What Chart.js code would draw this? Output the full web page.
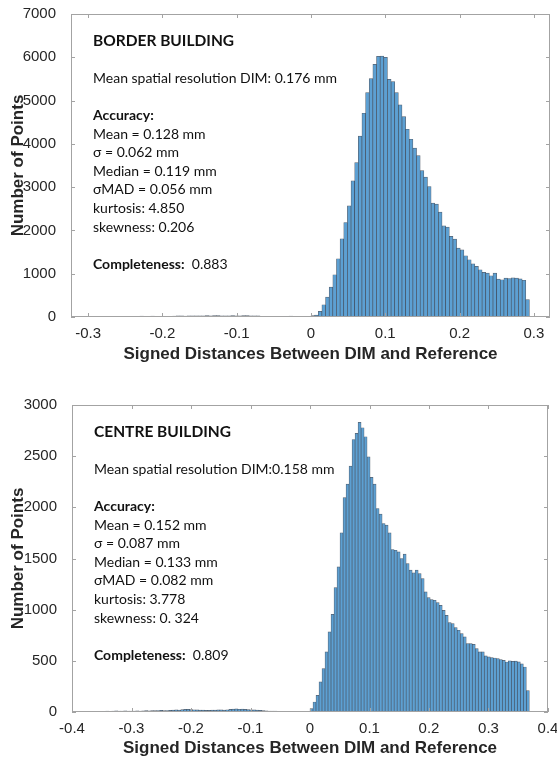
<!DOCTYPE html>
<html>
<head>
<meta charset="utf-8">
<script src="https://cdn.jsdelivr.net/npm/chart.js@4.4.1/dist/chart.umd.min.js"></script>
<style>
  html, body { margin: 0; padding: 0; background: #fff; }
  #wrap { position: relative; width: 557px; height: 761px; }
  canvas { position: absolute; left: 0; }
</style>
</head>
<body>
<div id="wrap">
  <canvas id="topChart" width="557" height="380" style="top:0"></canvas>
  <canvas id="bottomChart" width="557" height="381" style="top:380px"></canvas>
</div>
<script>
// ---- Border building histogram ----
const binWidthTop = 0.0049;
const negTop = [6, 8, 7, 9, 8, 10, 9, 8, 10, 9,
  11, 10, 12, 24, 11, 13, 22, 12, 14, 13,
  15, 14, 22, 26, 25, 24, 27, 28, 26, 25,
  27, 30, 29, 31, 30, 28, 29, 27, 30, 28,
  29, 31, 30, 26, 27, 25, 12, 11, 10, 9,
  10, 8, 9, 7, 22, 8, 0, 0, 0, 0];
const posTop = [30, 46, 130, 284, 461, 692, 976, 1346, 1807, 2184,
  2569, 3146, 3569, 4177, 4708, 5185, 5508, 5838, 6020, 6025,
  6000, 5490, 5440, 5185, 4900, 4630, 4338, 4107, 3900, 3730,
  3384, 3230, 3015, 2630, 2607, 2423, 2107, 2077, 1861, 1800,
  1592, 1553, 1415, 1323, 1230, 1169, 1092, 1030, 1015, 954,
  1015, 877, 861, 900, 890, 905, 900, 880, 850, 400];
const xTicksTop = [-0.3, -0.2, -0.1, 0, 0.1, 0.2, 0.3];
const yTicksTop = [0, 1000, 2000, 3000, 4000, 5000, 6000, 7000];
const notesTop = ['BORDER BUILDING', '', 'Mean spatial resolution DIM: 0.176 mm', '',
  'Accuracy:', 'Mean = 0.128 mm', 'σ = 0.062 mm', 'Median = 0.119 mm', 'σMAD = 0.056 mm',
  'kurtosis: 4.850', 'skewness: 0.206', '', 'Completeness:  0.883'];

// ---- Centre building histogram ----
const binWidthBottom = 0.00505;
const negBottom = [5, 6, 5, 7, 6, 8, 7, 9, 12, 8,
  9, 11, 8, 10, 9, 12, 10, 11, 13, 12,
  14, 13, 15, 16, 14, 15, 17, 18, 20, 19,
  24, 26, 25, 23, 22, 20, 19, 18, 17, 16,
  18, 19, 21, 20, 18, 22, 26, 28, 30, 27,
  29, 25, 24, 22, 20, 18, 16, 14, 12, 10,
  9, 8, 7, 6, 5, 4, 0, 0, 0, 0,
  0, 0, 0];
const posBottom = [33, 98, 163, 294, 424, 587, 783, 955, 1216, 1418,
  1751, 2096, 2227, 2403, 2663, 2722, 2830, 2778, 2690, 2494,
  2292, 2227, 1989, 1933, 1842, 1826, 1751, 1588, 1581, 1565,
  1500, 1542, 1451, 1386, 1360, 1386, 1353, 1304, 1174, 1118,
  1099, 1092, 1069, 1043, 994, 945, 874, 864, 825, 799,
  766, 734, 668, 668, 662, 620, 587, 587, 548, 538,
  531, 528, 522, 512, 505, 489, 500, 495, 498, 490,
  470, 440, 210];
const xTicksBottom = [-0.4, -0.3, -0.2, -0.1, 0, 0.1, 0.2, 0.3, 0.4];
const yTicksBottom = [0, 500, 1000, 1500, 2000, 2500, 3000];
const notesBottom = ['CENTRE BUILDING', '', 'Mean spatial resolution DIM:0.158 mm', '',
  'Accuracy:', 'Mean = 0.152 mm', 'σ = 0.087 mm', 'Median = 0.133 mm', 'σMAD = 0.082 mm',
  'kurtosis: 3.778', 'skewness: 0. 324', '', 'Completeness:  0.809'];

const headings = ['BORDER BUILDING', 'CENTRE BUILDING'];
const boldLabels = ['Accuracy:', 'Completeness:'];
const tickColor = '#262626';
const tickFont = {family: '"Liberation Sans", Arial, sans-serif', size: 15};
const titleFont = {family: '"Liberation Sans", Arial, sans-serif', size: 17, weight: 'bold'};

const toBins = (neg, pos, width) =>
  neg.concat(pos).map((count, i) => ({x: (i - neg.length + 0.5) * width, y: count}));

// box around the plot with inward tick marks, like the original figure
const framePlugin = {
  id: 'frame',
  afterDatasetsDraw(chart) {
    const {ctx, chartArea: a, scales: {x, y}} = chart;
    ctx.save();
    ctx.strokeStyle = '#a3a3a3';
    ctx.lineWidth = 1;
    ctx.strokeRect(Math.round(a.left) + 0.5, Math.round(a.top) + 0.5,
      Math.round(a.right - a.left) - 1, Math.round(a.bottom - a.top) - 1);
    ctx.beginPath();
    x.ticks.forEach(t => {
      const px = Math.round(x.getPixelForValue(t.value)) + 0.5;
      ctx.moveTo(px, a.bottom); ctx.lineTo(px, a.bottom - 4);
      ctx.moveTo(px, a.top); ctx.lineTo(px, a.top + 4);
    });
    y.ticks.forEach(t => {
      const py = Math.round(y.getPixelForValue(t.value)) + 0.5;
      ctx.moveTo(a.left, py); ctx.lineTo(a.left + 4, py);
      ctx.moveTo(a.right, py); ctx.lineTo(a.right - 4, py);
    });
    ctx.stroke();
    ctx.restore();
  }
};

const notesPlugin = {
  id: 'notes',
  afterDraw(chart, args, opts) {
    const {ctx, chartArea: a} = chart;
    const family = 'Lato, "Open Sans", sans-serif';
    ctx.save();
    ctx.fillStyle = '#111';
    ctx.textBaseline = 'middle';
    opts.lines.forEach((line, i) => {
      if (!line) return;
      const x = a.left + opts.dx;
      const y = a.top + opts.dy + i * opts.lineStep;
      if (headings.includes(line)) {
        ctx.font = 'bold 15.5px ' + family;
        ctx.fillText(line, x, y);
        return;
      }
      const label = boldLabels.find(b => line.startsWith(b));
      if (label) {
        ctx.font = 'bold 14px ' + family;
        ctx.fillText(label, x, y);
        const w = ctx.measureText(label).width;
        ctx.font = '14px ' + family;
        ctx.fillText(line.slice(label.length), x + w, y);
      } else {
        ctx.font = '14px ' + family;
        ctx.fillText(line, x, y);
      }
    });
    ctx.restore();
  }
};

const makeChart = (id, cfg) => {
  const canvas = document.getElementById(id);
  return new Chart(canvas.getContext('2d'), {
    type: 'bar',
    data: {
      datasets: [{
        data: toBins(cfg.neg, cfg.pos, cfg.binWidth),
        backgroundColor: 'rgb(92,160,211)',
        borderColor: 'rgba(30,45,65,0.75)',
        borderWidth: 0.7,
        barPercentage: 1,
        categoryPercentage: 1
      }]
    },
    options: {
      responsive: false,
      animation: false,
      devicePixelRatio: 1,
      layout: {padding: {left: 0, right: canvas.width - cfg.area.right, top: cfg.area.top, bottom: 0}},
      plugins: {
        legend: {display: false},
        tooltip: {enabled: false},
        notes: {lines: cfg.notes, dx: 22, dy: 27, lineStep: 18.6}
      },
      scales: {
        x: {
          type: 'linear',
          min: cfg.xMin,
          max: cfg.xMax,
          offset: false,
          grid: {display: false},
          border: {display: false},
          afterBuildTicks: s => { s.ticks = cfg.xTicks.map(v => ({value: v})); },
          afterFit: s => { s.height = canvas.height - cfg.area.bottom; s.paddingLeft = 0; s.paddingRight = 0; },
          ticks: {color: tickColor, font: tickFont, padding: 0, maxRotation: 0, autoSkip: false,
            callback: v => String(v)},
          title: {display: true, text: 'Signed Distances Between DIM and Reference',
            color: tickColor, font: titleFont, padding: {top: 0, bottom: cfg.xTitlePad}}
        },
        y: {
          min: 0,
          max: cfg.yTicks[cfg.yTicks.length - 1],
          grid: {display: false},
          border: {display: false},
          afterBuildTicks: s => { s.ticks = cfg.yTicks.map(v => ({value: v})); },
          afterFit: s => { s.width = cfg.area.left; s.paddingTop = 0; s.paddingBottom = 0; },
          ticks: {color: tickColor, font: tickFont, padding: 7, callback: v => String(v)},
          title: {display: true, text: 'Number of Points', color: tickColor, font: titleFont,
            padding: {top: 8, bottom: 0}}
        }
      }
    },
    plugins: [framePlugin, notesPlugin]
  });
};

makeChart('topChart', {
  neg: negTop, pos: posTop, binWidth: binWidthTop,
  xMin: -0.323, xMax: 0.3217, xTicks: xTicksTop, yTicks: yTicksTop,
  notes: notesTop, xTitlePad: 15,
  area: {left: 71, right: 550, top: 14, bottom: 317}
});

makeChart('bottomChart', {
  neg: negBottom, pos: posBottom, binWidth: binWidthBottom,
  xMin: -0.4, xMax: 0.4, xTicks: xTicksBottom, yTicks: yTicksBottom,
  notes: notesBottom, xTitlePad: 2,
  area: {left: 72, right: 548, top: 25, bottom: 332}
});
</script>
</body>
</html>
